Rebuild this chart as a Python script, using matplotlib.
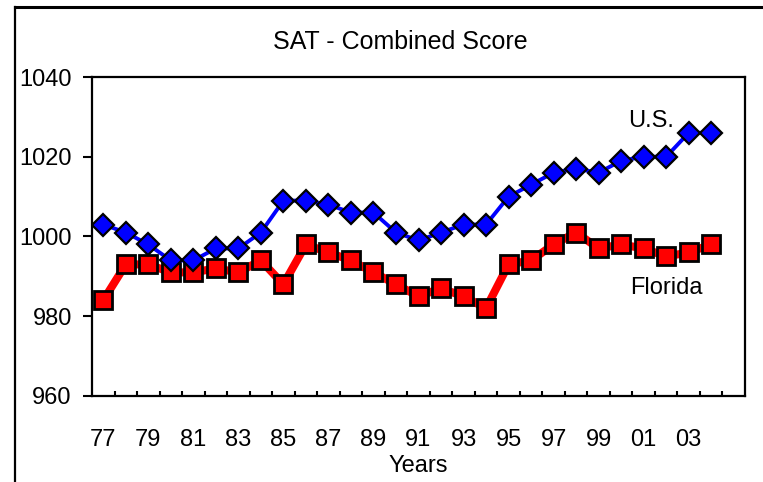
import matplotlib
matplotlib.use("Agg")
import matplotlib.pyplot as plt
from matplotlib.lines import Line2D
import numpy as np

plt.rcParams['font.family'] = ['Liberation Sans', 'DejaVu Sans']

years = ['77', '78', '79', '80', '81', '82', '83', '84', '85', '86', '87', '88', '89', '90',
         '91', '92', '93', '94', '95', '96', '97', '98', '99', '00', '01', '02', '03', '04']
us = [1003, 1001, 998, 994, 994, 997, 997, 1001, 1009, 1009, 1008, 1006, 1006, 1001,
      999, 1001, 1003, 1003, 1010, 1013, 1016, 1017, 1016, 1019, 1020, 1020, 1026, 1026]
florida = [984, 993, 993, 991, 991, 992, 991, 994, 988, 998, 996, 994, 991, 988,
           985, 987, 985, 982, 993, 994, 998, 1001, 997, 998, 997, 995, 996, 998]
n_categories = 29  # axis has one extra empty slot (05)
yticks = [960, 980, 1000, 1020, 1040]

fs = 17
fig = plt.figure(figsize=(7.63, 4.82), dpi=100)
ax = fig.add_axes([92/763, 1-396/482, (745-92)/763, (396-77)/482])

x = np.arange(len(years)) + 0.5
ax.plot(x, florida, color='#ff0000', lw=5.8, solid_joinstyle='miter', zorder=2)
ax.plot(x, florida, ls='none', marker='s', ms=13, mfc='#ff0000', mec='black', mew=2, zorder=3)
ax.plot(x, us, color='#0000ff', lw=2.8, zorder=4)
ax.plot(x, us, ls='none', marker='D', ms=11.5, mfc='#0000ff', mec='black', mew=1.6, zorder=5)

ax.set_xlim(0, n_categories)
ax.set_ylim(960, 1040)
ax.set_yticks(yticks)
ax.set_yticklabels([str(v) for v in yticks], fontsize=fs)
ax.tick_params(axis='y', direction='out', length=6.5, width=1.5, pad=8)

label_pos = [i + 0.5 for i in range(0, len(years), 2)]
ax.set_xticks(label_pos)
ax.set_xticklabels([years[i] for i in range(0, len(years), 2)], fontsize=fs)
ax.set_xticks(np.arange(1, n_categories), minor=True)
ax.tick_params(axis='x', which='major', length=0, pad=24)
ax.tick_params(axis='x', which='minor', direction='in', length=3.8, width=1.5)

for s in ax.spines.values():
    s.set_linewidth(1.6)

ax.set_xlabel('Years', fontsize=fs, labelpad=3)
fig.text(400/763, 1-42/482, 'SAT - Combined Score', ha='center', va='center', fontsize=18)

ax.text(24.85, 1029, 'U.S.', ha='center', va='center', fontsize=fs)
ax.text(25.5, 987, 'Florida', ha='center', va='center', fontsize=fs)

# outer frame (partially visible)
fig.add_artist(Line2D([15/763, 1.0], [1-6.5/482, 1-6.5/482], color='black', lw=2.2, transform=fig.transFigure))
fig.add_artist(Line2D([15/763, 15/763], [0.0, 1-6.5/482], color='black', lw=1.6, transform=fig.transFigure))

fig.savefig('out.png', dpi=100)
